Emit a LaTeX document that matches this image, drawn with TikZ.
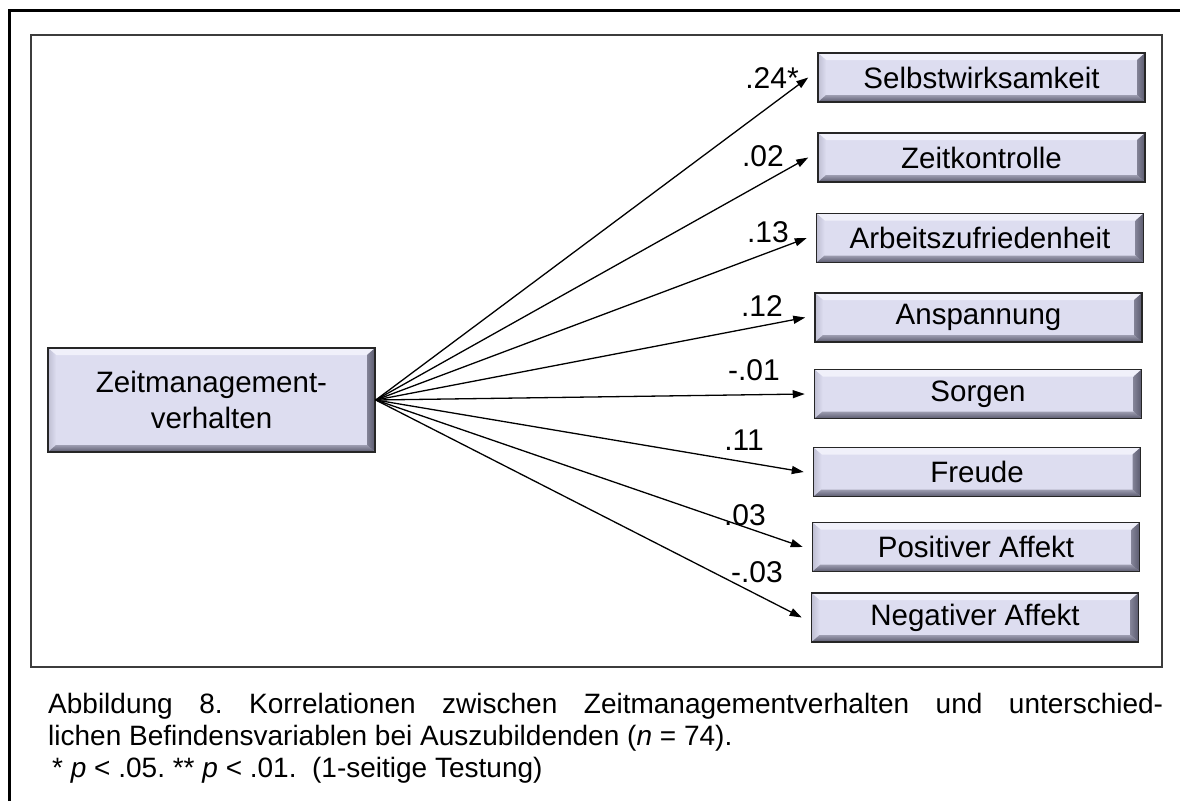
\documentclass[tikz,border=0pt]{standalone}
\usepackage{fontspec}
\setmainfont{Liberation Sans}
\usetikzlibrary{arrows.meta}
\definecolor{boxfill}{RGB}{221,221,240}
\definecolor{bevhi}{RGB}{240,240,250}
\definecolor{bevmid}{RGB}{190,190,210}
\definecolor{bevlo}{RGB}{130,130,150}
\definecolor{bevdk}{RGB}{90,90,110}
\definecolor{framegray}{RGB}{60,60,60}
\tikzset{
  bevbox/.style={draw=black!85, line width=1.5pt, fill=boxfill,
    font=\fontsize{29.5}{34}\selectfont, align=center,
    path picture={
      \def\bb{path picture bounding box}
      % top bevel
      \fill[bevhi] (\bb.north west) -- (\bb.north east)
        -- ([xshift=-8pt,yshift=-7pt]\bb.north east)
        -- ([xshift=8pt,yshift=-7pt]\bb.north west) -- cycle;
      % left bevel
      \shade[left color=bevmid, right color=boxfill]
        (\bb.north west) -- ([xshift=8pt,yshift=-7pt]\bb.north west)
        -- ([xshift=8pt,yshift=7pt]\bb.south west) -- (\bb.south west) -- cycle;
      % bottom bevel
      \shade[top color=bevlo!70!boxfill, bottom color=bevdk]
        (\bb.south west) -- ([xshift=8pt,yshift=7pt]\bb.south west)
        -- ([xshift=-8pt,yshift=7pt]\bb.south east) -- (\bb.south east) -- cycle;
      % right bevel
      \shade[left color=bevlo, right color=bevdk]
        (\bb.north east) -- ([xshift=-8pt,yshift=-7pt]\bb.north east)
        -- ([xshift=-8pt,yshift=7pt]\bb.south east) -- (\bb.south east) -- cycle;
    }},
  outbox/.style={bevbox, minimum width=327pt, minimum height=49pt, inner sep=0pt},
  lab/.style={font=\fontsize{30}{34}\selectfont, inner sep=0pt},
  link/.style={line width=1.3pt, -{Triangle[length=12pt,width=8pt]}},
  captext/.style={font=\fontsize{28}{32}\selectfont, anchor=base west, inner sep=0pt}
}
\begin{document}
\frenchspacing
\begin{tikzpicture}[x=1pt,y=-1pt]
\useasboundingbox (0,0) rectangle (1180,801);
\fill[white] (0,0) rectangle (1180,801);

% outer frame (top and left edges)
\draw[line width=3pt] (9,801) -- (9,10) -- (1180,10);
% diagram frame
\draw[framegray, line width=1.8pt] (31,35) rectangle (1162,667);

% predictor
\node[bevbox, minimum width=327pt, minimum height=104pt, inner sep=0pt,
      font=\fontsize{29.5}{36}\selectfont] (zmv) at (211.5,400) {Zeitmanagement-\\verhalten};

% outcomes
\node[outbox] (sw) at (981.5,77.5) {Selbstwirksamkeit};
\node[outbox] (zk) at (981.5,157.5) {Zeitkontrolle};
\node[outbox] (az) at (980,238) {Arbeitszufriedenheit};
\node[outbox] (an) at (978.5,317.5) {Anspannung};
\node[outbox] (so) at (978,394) {Sorgen};
\node[outbox] (fr) at (977,472) {Freude};
\node[outbox] (pa) at (976,547) {Positiver Affekt};
\node[outbox] (na) at (975,617.5) {Negativer Affekt};

% connectors
\foreach \t in {sw,zk,az,an,so,fr,pa,na}
  \draw[link] (zmv.east) -- ([xshift=-9pt]\t.west);

% coefficients
\node[lab] (c1) at (772,78) {.24*};
\node[lab] (c2) at (763,156) {.02};
\node[lab] (c3) at (768,232) {.13};
\node[lab] (c4) at (762,306) {.12};
\node[lab] (c5) at (754,370) {-.01};
\node[lab] (c6) at (744,440) {.11};
\node[lab] (c7) at (745,515) {.03};
\node[lab] (c8) at (757,572) {-.03};

% caption
\node[captext] (cap1) at (48,713) {\makebox[1115pt][s]{Abbildung 8. Korrelationen zwischen Zeitmanagementverhalten und unterschied-}};
\node[captext] (cap2) at (48,745) {lichen Befindensvariablen bei Auszubildenden (\textit{n} = 74).};
\node[captext] (cap3) at (52,777) {* \textit{p} < .05. ** \textit{p} < .01. \ (1-seitige Testung)};
\end{tikzpicture}
\end{document}
